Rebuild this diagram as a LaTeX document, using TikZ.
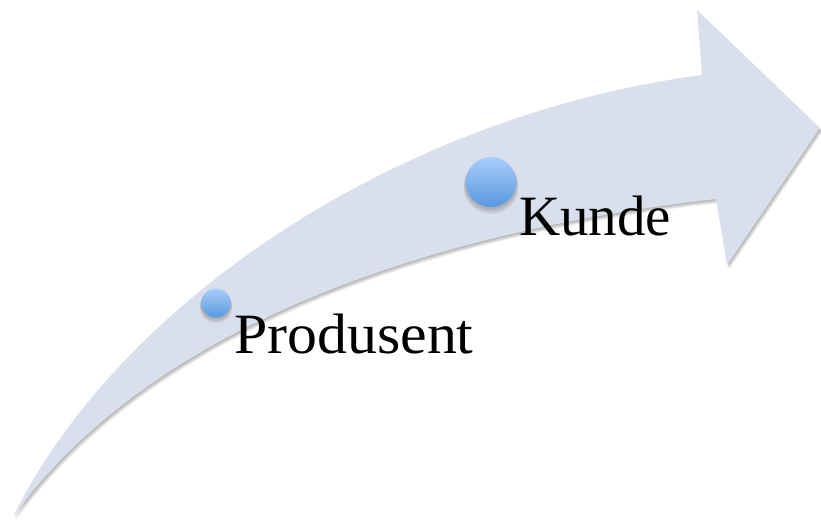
\documentclass[tikz,border=0pt]{standalone}
\usepackage{fontspec}
\setmainfont{Liberation Serif}
\definecolor{arrowfill}{RGB}{217,223,236}
\definecolor{dottop}{RGB}{170,205,250}
\definecolor{dotbot}{RGB}{88,152,224}
\tikzset{
  arrowbody/.style={fill=arrowfill},
  arrowshade/.style={fill=black,opacity=0.08},
  dotshade/.style={fill=black,opacity=0.08},
  dot/.style={circle,inner sep=0pt,top color=dottop,bottom color=dotbot},
  lbl/.style={anchor=base west,inner sep=0pt,font=\fontsize{57}{60}\selectfont}
}
\def\arrowpath{(13,517) .. controls (120,300) and (400,115) .. (702,75)
  -- (697,10) -- (820,128) -- (727,265) -- (716,199)
  .. controls (400,235) and (140,340) .. (13,517) -- cycle}
\begin{document}
\begin{tikzpicture}[x=1pt,y=-1pt]
\useasboundingbox (0,0) rectangle (821,519);
% soft shadow of the arrow
\foreach \d in {1,2,3,4}{
  \fill[arrowshade,shift={(0.6*\d,1.0*\d)}] \arrowpath;
}
\fill[arrowbody] \arrowpath;
% dot shadows
\foreach \d in {1,2,3}{
  \fill[dotshade] (216,{303+1.2*\d}) circle ({14.5+0.6*\d});
  \fill[dotshade] (491,{182+1.5*\d}) circle ({25+0.8*\d});
}
\node[dot,minimum size=29pt] (p) at (216,303) {};
\node[dot,minimum size=50pt] (k) at (491,182) {};
\node[lbl] (pl) at (234,353) {\scalebox{1.05}[1]{Produsent}};
\node[lbl] (kl) at (519,235) {Kunde};
\end{tikzpicture}
\end{document}
